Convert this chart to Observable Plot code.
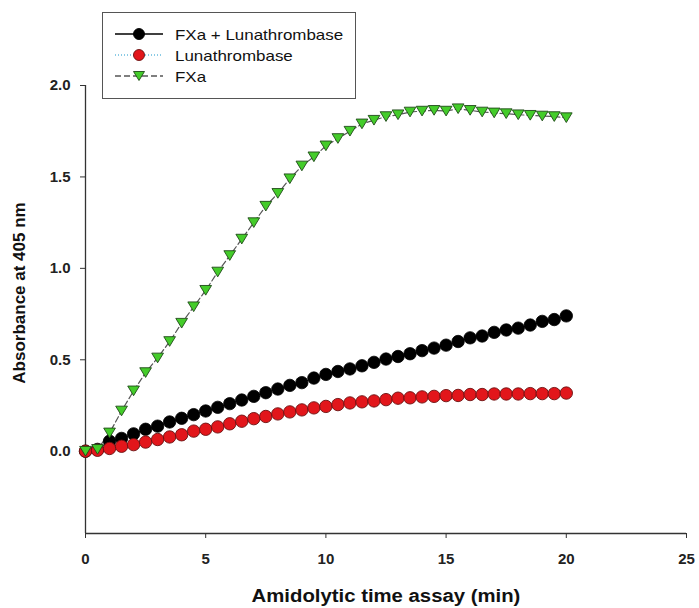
<!DOCTYPE html>
<html><head><meta charset="utf-8">
<script src="https://cdn.jsdelivr.net/npm/d3@7"></script>
<script src="https://cdn.jsdelivr.net/npm/@observablehq/plot@0.6"></script>
<style>
body{margin:0;background:#fff;font-family:"Liberation Sans",Arial,sans-serif;}
#wrap{position:relative;width:699px;height:608px;}
#legend{position:absolute;left:102px;top:12px;width:252px;height:85px;border:1.5px solid #555;background:#fff;}
.row{position:absolute;left:0;height:20px;display:flex;align-items:center;font-size:15px;color:#111;}
.row svg{margin-left:12px;margin-right:12px;}
.row span{display:inline-block;transform:scaleX(1.13);transform-origin:left center;white-space:nowrap;}
</style></head>
<body><div id="wrap"><div id="legend"></div></div>
<script>
const time = [0,0.5,1,1.5,2,2.5,3,3.5,4,4.5,5,5.5,6,6.5,7,7.5,8,8.5,9,9.5,10,10.5,11,11.5,12,12.5,13,13.5,14,14.5,15,15.5,16,16.5,17,17.5,18,18.5,19,19.5,20];
const fxaLuna = [0,0.01,0.055,0.07,0.095,0.12,0.137,0.16,0.18,0.20,0.22,0.24,0.26,0.28,0.30,0.32,0.34,0.36,0.375,0.40,0.42,0.436,0.45,0.467,0.486,0.504,0.518,0.533,0.55,0.564,0.58,0.60,0.62,0.63,0.65,0.663,0.673,0.69,0.71,0.72,0.74];
const luna = [0,0.005,0.015,0.027,0.036,0.05,0.064,0.078,0.09,0.11,0.12,0.133,0.15,0.164,0.178,0.19,0.204,0.215,0.226,0.237,0.245,0.255,0.264,0.27,0.275,0.282,0.29,0.292,0.297,0.30,0.304,0.305,0.31,0.31,0.313,0.313,0.313,0.315,0.315,0.315,0.318];
const fxa = [0,0.01,0.10,0.22,0.33,0.43,0.51,0.60,0.70,0.79,0.88,0.98,1.07,1.16,1.25,1.34,1.41,1.49,1.56,1.61,1.67,1.71,1.75,1.79,1.81,1.83,1.84,1.855,1.86,1.864,1.86,1.873,1.864,1.855,1.85,1.846,1.84,1.837,1.833,1.83,1.824];
const seriesNames = ["FXa + Lunathrombase","Lunathrombase","FXa"];
const xTicks = [0,5,10,15,20,25];
const yTicks = [0,0.5,1.0,1.5,2.0];
const xTitle = "Amidolytic time assay (min)";
const yTitle = "Absorbance at 405 nm";

const dBlack = time.map((t,i)=>({t, v: fxaLuna[i]}));
const dRed = time.map((t,i)=>({t, v: luna[i]}));
const dGreen = time.map((t,i)=>({t, v: fxa[i]}));

const triDown = {draw(ctx, size){
  const w = Math.sqrt(size)*0.55;
  const ht = w*1.65;
  ctx.moveTo(-w, -ht/2); ctx.lineTo(w, -ht/2); ctx.lineTo(0, ht/2); ctx.closePath();
}};

const font = '"Liberation Sans", Arial, sans-serif';
const chart = Plot.plot({
  width: 699, height: 608,
  marginLeft: 85, marginRight: 13, marginTop: 85, marginBottom: 75,
  style: {fontFamily: font, background: "#fff"},
  x: {domain: [0,25]},
  y: {domain: [-0.45, 2]},
  marks: [
    Plot.ruleX([0], {y1: -0.45, y2: 2, stroke: "#333", strokeWidth: 1.3}),
    Plot.ruleY([-0.45], {x1: 0, x2: 25, stroke: "#333", strokeWidth: 1.3}),
    Plot.axisX({ticks: xTicks, tickSize: 5, tickPadding: 15, label: null, tickFormat: d=>String(d), fontSize: 15, fontWeight: "bold", stroke: "#333", fill: "#222"}),
    Plot.axisY({ticks: yTicks, tickSize: 5, tickPadding: 10, label: null, tickFormat: d=>d.toFixed(1), fontSize: 15, fontWeight: "bold", stroke: "#333", fill: "#222"}),
    Plot.line(dBlack, {x: "t", y: "v", stroke: "#000", strokeWidth: 1}),
    Plot.line(dRed, {x: "t", y: "v", stroke: "#66bbdd", strokeWidth: 1, strokeDasharray: "1,2"}),
    Plot.line(dGreen, {x: "t", y: "v", stroke: "#555", strokeWidth: 1.2, strokeDasharray: "6,3"}),
    Plot.dot(dBlack, {x: "t", y: "v", r: 6.2, fill: "#000", stroke: "#000", strokeWidth: 0.8}),
    Plot.dot(dRed, {x: "t", y: "v", r: 6.2, fill: "#e2161b", stroke: "#6a1010", strokeWidth: 0.9}),
    Plot.dot(dGreen, {x: "t", y: "v", r: 6, symbol: triDown, fill: "#44cc2a", stroke: "#1f4a18", strokeWidth: 0.9})
  ]
});
const wrap = document.getElementById("wrap");
wrap.insertBefore(chart, wrap.firstChild);
const svg = d3.select(chart);
svg.append("text").attr("transform","translate(386,597) scale(1.13,1)").attr("text-anchor","middle").attr("dominant-baseline","middle")
  .attr("font-size", 18).attr("font-weight","bold").attr("fill","#111").attr("font-family", font).text(xTitle);
svg.append("text").attr("transform","translate(21,293) rotate(-90)").attr("text-anchor","middle").attr("dominant-baseline","middle")
  .attr("font-size", 17).attr("font-weight","bold").attr("fill","#111").attr("font-family", font).text(yTitle);

// legend
const leg = document.getElementById("legend");
const legendStyles = [
  {line: "#000", dash: "none", fill: "#000", stroke: "#000", shape: "circle"},
  {line: "#66bbdd", dash: "1,2", fill: "#e2161b", stroke: "#6a1010", shape: "circle"},
  {line: "#555", dash: "6,3", fill: "#44cc2a", stroke: "#1f4a18", shape: "tri"}
];
seriesNames.forEach((name,i)=>{
  const s = legendStyles[i];
  const row = document.createElement("div");
  row.className = "row";
  row.style.top = (11 + i*21) + "px";
  const shape = s.shape === "circle"
    ? `<circle cx="24" cy="10" r="5.5" fill="${s.fill}" stroke="${s.stroke}" stroke-width="0.9"/>`
    : `<path d="M18.5,5.5 L29.5,5.5 L24,14.5 Z" fill="${s.fill}" stroke="${s.stroke}" stroke-width="0.9"/>`;
  row.innerHTML = `<svg width="48" height="20"><line x1="0" y1="10" x2="48" y2="10" stroke="${s.line}" stroke-width="1.3" stroke-dasharray="${s.dash}"/>${shape}</svg><span>${name}</span>`;
  leg.appendChild(row);
});
</script></body></html>
